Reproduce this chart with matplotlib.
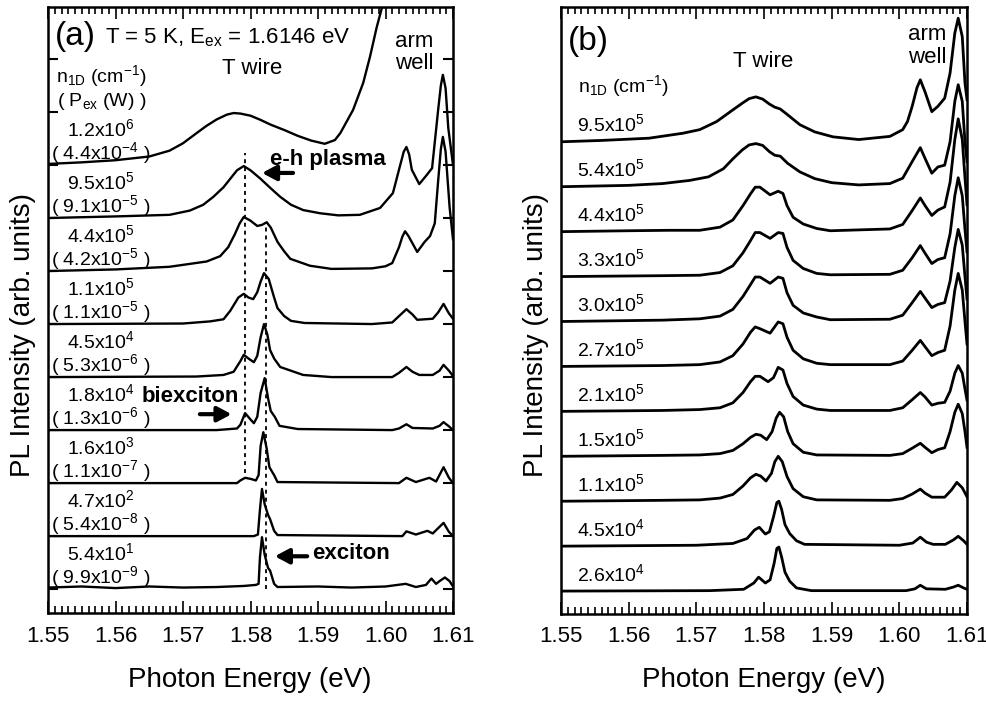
import matplotlib
matplotlib.use("Agg")
import matplotlib.pyplot as plt
from matplotlib.ticker import MultipleLocator, FormatStrFormatter

plt.rcParams['font.family'] = ['Liberation Sans', 'DejaVu Sans']
plt.rcParams['mathtext.default'] = 'regular'

# ---- panel (a): spectra, (energy eV, height in units of the trace spacing) ----
a_54e1 = [(1.550, 0.03), (1.555, 0.05), (1.560, 0.02), (1.565, 0.05), (1.570, 0.03), (1.575, 0.04),
          (1.579, 0.06), (1.5808, 0.08), (1.5812, 0.10), (1.5814, 0.60), (1.5817, 0.98), (1.5821, 0.65),
          (1.5826, 0.40), (1.5829, 0.35), (1.5835, 0.10), (1.584, 0.04), (1.590, 0.05), (1.595, 0.03),
          (1.600, 0.05), (1.603, 0.10), (1.6045, 0.04), (1.606, 0.08), (1.6068, 0.20), (1.6075, 0.10),
          (1.608, 0.15), (1.6088, 0.22), (1.6095, 0.15), (1.610, 0.05)]
a_47e2 = [(1.550, 0.00), (1.5805, 0.00), (1.5811, 0.03), (1.5814, 0.50), (1.5817, 0.89), (1.5821, 0.60),
          (1.5826, 0.40), (1.5829, 0.32), (1.5835, 0.10), (1.584, 0.02), (1.6025, 0.00), (1.6031, 0.09),
          (1.6045, 0.03), (1.6062, 0.10), (1.607, 0.05), (1.6086, 0.25), (1.6094, 0.08), (1.610, 0.00)]
a_16e3 = [(1.550, 0.00), (1.578, 0.00), (1.5785, 0.05), (1.5792, 0.10), (1.580, 0.08), (1.5808, 0.05),
          (1.5812, 0.15), (1.5815, 0.70), (1.5819, 0.96), (1.5824, 0.65), (1.5828, 0.30), (1.5835, 0.15),
          (1.584, 0.02), (1.602, 0.00), (1.6031, 0.10), (1.6045, 0.02), (1.6065, 0.10), (1.6075, 0.03),
          (1.6086, 0.30), (1.6094, 0.10), (1.610, 0.00)]
a_18e4 = [(1.550, 0.00), (1.575, 0.00), (1.578, 0.03), (1.5785, 0.10), (1.5792, 0.32), (1.580, 0.20),
          (1.5805, 0.13), (1.581, 0.25), (1.5815, 0.70), (1.5821, 0.98), (1.5826, 0.60), (1.583, 0.36),
          (1.5836, 0.25), (1.5843, 0.08), (1.587, 0.02), (1.601, 0.00), (1.602, 0.03), (1.6031, 0.11),
          (1.604, 0.04), (1.607, 0.03), (1.608, 0.08), (1.6086, 0.15), (1.6094, 0.07), (1.610, 0.00)]
a_45e4 = [(1.550, 0.00), (1.572, 0.01), (1.576, 0.04), (1.5775, 0.10), (1.5785, 0.30), (1.579, 0.42),
          (1.5797, 0.35), (1.5805, 0.28), (1.581, 0.40), (1.5815, 0.75), (1.582, 1.00), (1.5825, 0.80),
          (1.5829, 0.51), (1.5835, 0.35), (1.5844, 0.19), (1.5878, 0.04), (1.592, 0.00), (1.601, 0.00),
          (1.602, 0.08), (1.6031, 0.19), (1.604, 0.10), (1.605, 0.04), (1.607, 0.04), (1.608, 0.12),
          (1.6086, 0.23), (1.6094, 0.12), (1.610, 0.02)]
a_11e5 = [(1.550, 0.00), (1.570, 0.01), (1.574, 0.05), (1.576, 0.09), (1.577, 0.25), (1.5782, 0.50),
          (1.579, 0.57), (1.5797, 0.50), (1.5804, 0.47), (1.581, 0.60), (1.5815, 0.80), (1.582, 0.96),
          (1.5827, 0.85), (1.5835, 0.50), (1.584, 0.30), (1.585, 0.15), (1.586, 0.06), (1.588, 0.02),
          (1.598, 0.00), (1.601, 0.03), (1.602, 0.15), (1.6031, 0.28), (1.604, 0.18), (1.6047, 0.08),
          (1.607, 0.10), (1.6078, 0.22), (1.6086, 0.38), (1.6094, 0.20), (1.610, 0.10)]
a_44e5 = [(1.550, 0.00), (1.560, 0.03), (1.568, 0.08), (1.5735, 0.18), (1.5755, 0.28), (1.5767, 0.45),
          (1.5777, 0.70), (1.5784, 0.90), (1.579, 1.02), (1.580, 0.95), (1.581, 0.85), (1.5817, 0.87),
          (1.5824, 0.92), (1.583, 0.82), (1.584, 0.55), (1.585, 0.37), (1.5859, 0.23), (1.5888, 0.10),
          (1.592, 0.04), (1.598, 0.05), (1.600, 0.09), (1.601, 0.15), (1.602, 0.45), (1.6025, 0.65),
          (1.6029, 0.75), (1.6034, 0.66), (1.6047, 0.36), (1.6058, 0.55), (1.6066, 0.66), (1.6073, 0.90),
          (1.6078, 1.70), (1.6082, 2.30), (1.6085, 2.53), (1.6089, 2.25), (1.6095, 1.20), (1.610, 0.60)]
a_95e5 = [(1.550, 0.00), (1.560, 0.03), (1.568, 0.06), (1.571, 0.14), (1.573, 0.25), (1.5745, 0.40),
          (1.576, 0.58), (1.578, 0.90), (1.579, 0.98), (1.580, 0.90), (1.5814, 0.75), (1.583, 0.56),
          (1.5844, 0.40), (1.586, 0.25), (1.5878, 0.15), (1.5903, 0.09), (1.593, 0.05), (1.5962, 0.06),
          (1.5992, 0.19), (1.6011, 0.47), (1.6021, 0.96), (1.6027, 1.25), (1.6031, 1.34), (1.6035, 1.20),
          (1.6039, 0.91), (1.605, 0.64), (1.6061, 0.81), (1.6069, 0.94), (1.6078, 2.04), (1.6082, 2.50),
          (1.6085, 2.70), (1.6089, 2.45), (1.6093, 1.70), (1.610, 1.00)]
a_12e6 = [(1.550, 0.02), (1.555, 0.05), (1.560, 0.09), (1.565, 0.16), (1.568, 0.27), (1.570, 0.41),
          (1.572, 0.60), (1.5735, 0.74), (1.575, 0.86), (1.5765, 0.95), (1.5775, 0.98), (1.5785, 0.97),
          (1.580, 0.93), (1.5815, 0.85), (1.583, 0.76), (1.585, 0.66), (1.587, 0.55), (1.589, 0.46),
          (1.591, 0.40), (1.5925, 0.47), (1.5933, 0.60), (1.5952, 1.04), (1.5967, 1.55), (1.5977, 2.04),
          (1.5987, 2.60), (1.5995, 2.98), (1.601, 3.60)]

A_SPECTRA = [a_54e1, a_47e2, a_16e3, a_18e4, a_45e4, a_11e5, a_44e5, a_95e5, a_12e6]
A_DENSITY = ["5.4x10$^{1}$", "4.7x10$^{2}$", "1.6x10$^{3}$", "1.8x10$^{4}$", "4.5x10$^{4}$",
             "1.1x10$^{5}$", "4.4x10$^{5}$", "9.5x10$^{5}$", "1.2x10$^{6}$"]
A_POWER = ["( 9.9x10$^{-9}$ )", "( 5.4x10$^{-8}$ )", "( 1.1x10$^{-7}$ )", "( 1.3x10$^{-6}$ )",
           "( 5.3x10$^{-6}$ )", "( 1.1x10$^{-5}$ )", "( 4.2x10$^{-5}$ )", "( 9.1x10$^{-5}$ )",
           "( 4.4x10$^{-4}$ )"]
BIEXCITON_E = 1.5792
EXCITON_E = 1.5823

# ---- panel (b) ----
b_26e4 = [(1.550, 0.00), (1.572, 0.01), (1.577, 0.04), (1.5785, 0.18), (1.5792, 0.31), (1.5802, 0.18),
          (1.5809, 0.25), (1.5815, 0.62), (1.5819, 0.95), (1.5822, 0.98), (1.5826, 0.76), (1.5831, 0.42),
          (1.5838, 0.22), (1.5848, 0.07), (1.587, 0.01), (1.601, 0.01), (1.6023, 0.05), (1.6031, 0.13),
          (1.604, 0.05), (1.6068, 0.04), (1.608, 0.09), (1.6087, 0.13), (1.6095, 0.07), (1.610, 0.04)]
b_45e4 = [(1.550, 0.00), (1.570, 0.02), (1.5754, 0.06), (1.5775, 0.17), (1.5786, 0.36), (1.5793, 0.42),
          (1.5802, 0.27), (1.5808, 0.32), (1.5814, 0.65), (1.5819, 0.97), (1.5822, 1.00), (1.5826, 0.82),
          (1.5831, 0.48), (1.5838, 0.28), (1.5848, 0.12), (1.586, 0.04), (1.600, 0.02), (1.602, 0.07),
          (1.6031, 0.20), (1.604, 0.09), (1.605, 0.04), (1.6068, 0.04), (1.608, 0.14), (1.6087, 0.22),
          (1.6095, 0.12), (1.610, 0.04)]
b_11e5 = [(1.550, 0.00), (1.565, 0.02), (1.5705, 0.03), (1.5735, 0.07), (1.5754, 0.15), (1.5769, 0.34),
          (1.578, 0.52), (1.5788, 0.60), (1.5795, 0.56), (1.5803, 0.45), (1.5811, 0.62), (1.5816, 0.88),
          (1.5821, 1.00), (1.5827, 0.88), (1.5834, 0.55), (1.5843, 0.28), (1.5858, 0.10), (1.5878, 0.03),
          (1.5986, 0.02), (1.6005, 0.06), (1.6019, 0.16), (1.6031, 0.27), (1.6038, 0.18), (1.6048, 0.09),
          (1.6067, 0.09), (1.6077, 0.25), (1.6085, 0.42), (1.6093, 0.30), (1.610, 0.10)]
b_15e5 = [(1.550, 0.00), (1.565, 0.02), (1.5705, 0.03), (1.5735, 0.06), (1.5754, 0.13), (1.5769, 0.28),
          (1.578, 0.42), (1.5788, 0.49), (1.5795, 0.47), (1.5804, 0.37), (1.5812, 0.55), (1.5818, 0.85),
          (1.5823, 0.98), (1.5829, 0.88), (1.5835, 0.55), (1.5843, 0.28), (1.5858, 0.09), (1.5878, 0.03),
          (1.5986, 0.02), (1.6005, 0.06), (1.6019, 0.18), (1.6031, 0.29), (1.6038, 0.20), (1.6048, 0.08),
          (1.6057, 0.15), (1.6067, 0.19), (1.6075, 0.55), (1.6082, 0.98), (1.6087, 1.16), (1.6093, 0.95),
          (1.6097, 0.55), (1.610, 0.20)]
b_21e5 = [(1.550, 0.00), (1.565, 0.02), (1.5705, 0.04), (1.5735, 0.08), (1.5754, 0.19), (1.5769, 0.42),
          (1.578, 0.66), (1.5787, 0.78), (1.5794, 0.78), (1.5806, 0.66), (1.5814, 0.75), (1.5821, 0.98),
          (1.5828, 0.92), (1.5834, 0.62), (1.5843, 0.33), (1.5858, 0.14), (1.5878, 0.05), (1.5898, 0.02),
          (1.5986, 0.02), (1.6005, 0.08), (1.6019, 0.26), (1.6031, 0.42), (1.6038, 0.32), (1.6048, 0.14),
          (1.6057, 0.18), (1.6067, 0.20), (1.6075, 0.45), (1.6082, 0.85), (1.6087, 1.02), (1.6093, 0.85),
          (1.6097, 0.50), (1.610, 0.25)]
b_27e5 = [(1.550, 0.00), (1.565, 0.02), (1.5705, 0.04), (1.5735, 0.10), (1.5754, 0.24), (1.5769, 0.50),
          (1.578, 0.76), (1.5787, 0.88), (1.5794, 0.84), (1.5809, 0.74), (1.5821, 0.99), (1.5828, 0.95),
          (1.5834, 0.65), (1.5843, 0.36), (1.5858, 0.17), (1.5878, 0.07), (1.5898, 0.04), (1.5986, 0.04),
          (1.6005, 0.12), (1.6019, 0.36), (1.6031, 0.58), (1.6038, 0.44), (1.6048, 0.24), (1.6057, 0.31),
          (1.6067, 0.36), (1.6075, 0.90), (1.6082, 1.70), (1.6087, 2.07), (1.6093, 1.70), (1.6097, 1.00),
          (1.610, 0.50)]
b_30e5 = [(1.550, 0.00), (1.565, 0.03), (1.5705, 0.06), (1.5735, 0.12), (1.5754, 0.27), (1.5769, 0.56),
          (1.578, 0.82), (1.5787, 0.99), (1.5794, 0.99), (1.5809, 0.85), (1.5821, 0.99), (1.5828, 0.96),
          (1.5834, 0.64), (1.5843, 0.36), (1.5858, 0.19), (1.5878, 0.10), (1.5898, 0.04), (1.5986, 0.05),
          (1.6005, 0.14), (1.6019, 0.42), (1.6031, 0.67), (1.6038, 0.52), (1.6048, 0.31), (1.6057, 0.38),
          (1.6067, 0.42), (1.6075, 0.90), (1.6082, 1.65), (1.6087, 2.05), (1.6093, 1.70), (1.6097, 1.00),
          (1.610, 0.50)]
b_33e5 = [(1.550, 0.00), (1.565, 0.02), (1.5705, 0.03), (1.5735, 0.09), (1.5754, 0.24), (1.5769, 0.53),
          (1.578, 0.80), (1.5787, 0.98), (1.5794, 0.98), (1.5809, 0.85), (1.5821, 0.98), (1.5828, 0.96),
          (1.5834, 0.65), (1.5843, 0.36), (1.5858, 0.18), (1.5878, 0.07), (1.5898, 0.04), (1.5986, 0.05),
          (1.6005, 0.14), (1.6019, 0.42), (1.6031, 0.69), (1.6038, 0.52), (1.6048, 0.29), (1.6057, 0.38),
          (1.6067, 0.42), (1.6075, 0.95), (1.6082, 1.80), (1.6087, 2.20), (1.6093, 1.80), (1.6097, 1.05),
          (1.610, 0.55)]
b_44e5 = [(1.550, 0.00), (1.560, 0.02), (1.566, 0.03), (1.5705, 0.03), (1.5735, 0.10), (1.5754, 0.26),
          (1.5769, 0.58), (1.578, 0.84), (1.5787, 0.99), (1.5794, 0.99), (1.5809, 0.82), (1.5821, 0.90),
          (1.5828, 0.85), (1.5834, 0.58), (1.5843, 0.32), (1.5858, 0.17), (1.5878, 0.07), (1.5898, 0.02),
          (1.5986, 0.06), (1.6005, 0.16), (1.6019, 0.47), (1.6031, 0.75), (1.6038, 0.58), (1.6048, 0.36),
          (1.6057, 0.48), (1.6067, 0.55), (1.6075, 1.10), (1.6082, 2.05), (1.6087, 2.51), (1.6093, 2.05),
          (1.6097, 1.20), (1.610, 0.60)]
b_54e5 = [(1.550, 0.00), (1.560, 0.03), (1.565, 0.07), (1.569, 0.14), (1.5718, 0.22), (1.574, 0.40),
          (1.5754, 0.62), (1.5768, 0.82), (1.5778, 0.93), (1.5788, 0.96), (1.5798, 0.92), (1.5808, 0.78),
          (1.5816, 0.70), (1.5824, 0.68), (1.5835, 0.52), (1.5853, 0.33), (1.5875, 0.18), (1.590, 0.09),
          (1.594, 0.04), (1.5986, 0.07), (1.6005, 0.19), (1.6019, 0.56), (1.6031, 0.87), (1.6038, 0.63),
          (1.6048, 0.30), (1.6057, 0.44), (1.6067, 0.48), (1.6075, 1.00), (1.6082, 1.90), (1.6087, 2.27),
          (1.6093, 1.90), (1.6097, 1.00), (1.610, 0.56)]
b_95e5 = [(1.550, 0.00), (1.556, 0.03), (1.563, 0.08), (1.568, 0.19), (1.5705, 0.27), (1.573, 0.45),
          (1.5754, 0.71), (1.5768, 0.86), (1.5778, 0.96), (1.5788, 1.00), (1.5798, 0.95), (1.5808, 0.84),
          (1.5816, 0.77), (1.5824, 0.73), (1.5835, 0.60), (1.5853, 0.38), (1.5875, 0.22), (1.5902, 0.11),
          (1.594, 0.05), (1.5986, 0.12), (1.6005, 0.27), (1.6012, 0.45), (1.6019, 0.79), (1.6026, 1.20),
          (1.6031, 1.38), (1.6038, 1.11), (1.6048, 0.67), (1.6057, 0.79), (1.6067, 0.97), (1.6075, 1.53),
          (1.6082, 2.42), (1.6087, 2.75), (1.6093, 2.34), (1.6097, 1.31), (1.610, 0.94)]

B_SPECTRA = [b_26e4, b_45e4, b_11e5, b_15e5, b_21e5, b_27e5, b_30e5, b_33e5, b_44e5, b_54e5, b_95e5]
B_DENSITY = ["2.6x10$^{4}$", "4.5x10$^{4}$", "1.1x10$^{5}$", "1.5x10$^{5}$", "2.1x10$^{5}$",
             "2.7x10$^{5}$", "3.0x10$^{5}$", "3.3x10$^{5}$", "4.4x10$^{5}$", "5.4x10$^{5}$",
             "9.5x10$^{5}$"]

W, H = 987, 705
fig = plt.figure(figsize=(W / 100, H / 100), dpi=100)
axA = fig.add_axes([48 / W, 1 - 613 / H, 405 / W, 606 / H])
axB = fig.add_axes([561 / W, 1 - 614 / H, 406 / W, 607 / H])


def style_axes(ax):
    ax.set_xlim(1.55, 1.61)
    ax.xaxis.set_major_locator(MultipleLocator(0.01))
    ax.xaxis.set_minor_locator(MultipleLocator(0.001))
    ax.xaxis.set_major_formatter(FormatStrFormatter('%.2f'))
    ax.tick_params(axis='x', which='both', direction='in', top=True, bottom=True,
                   labelsize=16, pad=9, width=1.2)
    ax.tick_params(axis='x', which='major', length=8.5)
    ax.tick_params(axis='x', which='minor', length=5)
    for s in ax.spines.values():
        s.set_linewidth(1.8)


# panel (a)
for k, spec in enumerate(A_SPECTRA):
    e, h = zip(*spec)
    axA.plot(e, [v + k for v in h], color='k', lw=1.7, solid_joinstyle='round')
    axA.text(1.5578, k + 0.55, A_DENSITY[k], ha='center', va='baseline', fontsize=14)
    axA.text(1.5578, k + 0.12, A_POWER[k], ha='center', va='baseline', fontsize=14)

axA.plot([BIEXCITON_E, BIEXCITON_E], [2.19, 8.23], color='k', lw=1.3, ls=(0, (2.2, 2.2)))
axA.plot([EXCITON_E, EXCITON_E], [0.0, 6.9], color='k', lw=1.3, ls=(0, (2.2, 2.2)))

style_axes(axA)
axA.set_ylim(-0.45, 10.98)
axA.set_yticks(range(11))
axA.tick_params(axis='y', which='major', direction='in', left=True, right=True,
                labelleft=False, length=7, width=1.5)

axA.text(1.5540, 10.26, "(a)", ha='center', va='baseline', fontsize=24)
axA.text(1.5584, 10.30, "T = 5 K, E$_{ex}$ = 1.6146 eV", ha='left', va='baseline', fontsize=16)
axA.text(1.5802, 9.72, "T wire", ha='center', va='baseline', fontsize=16)
axA.text(1.6042, 10.23, "arm", ha='center', va='baseline', fontsize=16)
axA.text(1.6042, 9.81, "well", ha='center', va='baseline', fontsize=16)
axA.text(1.5579, 9.57, "n$_{1D}$ (cm$^{-1}$)", ha='center', va='baseline', fontsize=14)
axA.text(1.5579, 9.11, "( P$_{ex}$ (W) )", ha='center', va='baseline', fontsize=14)

arrow = dict(arrowstyle='-|>,head_length=0.6,head_width=0.32', lw=3, color='k',
             mutation_scale=14, shrinkA=0, shrinkB=0)
axA.text(1.5829, 8.0, "e-h plasma", ha='left', va='baseline', fontsize=16, fontweight='bold')
axA.annotate("", xy=(1.5817, 7.85), xytext=(1.5863, 7.85), arrowprops=arrow)
axA.text(1.5639, 3.53, "biexciton", ha='left', va='baseline', fontsize=16, fontweight='bold')
axA.annotate("", xy=(1.5772, 3.30), xytext=(1.5725, 3.30), arrowprops=arrow)
axA.text(1.5891, 0.57, "exciton", ha='left', va='baseline', fontsize=16, fontweight='bold')
axA.annotate("", xy=(1.5836, 0.62), xytext=(1.5884, 0.62), arrowprops=arrow)

# panel (b)
for k, spec in enumerate(B_SPECTRA):
    e, h = zip(*spec)
    axB.plot(e, [v + k for v in h], color='k', lw=2.0, solid_joinstyle='round')
    axB.text(1.5524, k + 0.23, B_DENSITY[k], ha='left', va='baseline', fontsize=14)

style_axes(axB)
axB.set_ylim(-0.51, 13.0)
axB.set_yticks([])

axB.text(1.5541, 12.05, "(b)", ha='center', va='baseline', fontsize=24)
axB.text(1.5799, 11.67, "T wire", ha='center', va='baseline', fontsize=16)
axB.text(1.6041, 12.27, "arm", ha='center', va='baseline', fontsize=16)
axB.text(1.6041, 11.76, "well", ha='center', va='baseline', fontsize=16)
axB.text(1.5525, 11.11, "n$_{1D}$ (cm$^{-1}$)", ha='left', va='baseline', fontsize=14)

# axis titles
for xc in (250, 764):
    fig.text(xc / W, 1 - 680 / H, "Photon Energy (eV)", ha='center', va='center', fontsize=20)
for xc in (23, 536):
    fig.text(xc / W, 1 - 335 / H, "PL Intensity (arb. units)", ha='center', va='center',
             rotation=90, fontsize=20)

fig.savefig("out.png", dpi=100)
